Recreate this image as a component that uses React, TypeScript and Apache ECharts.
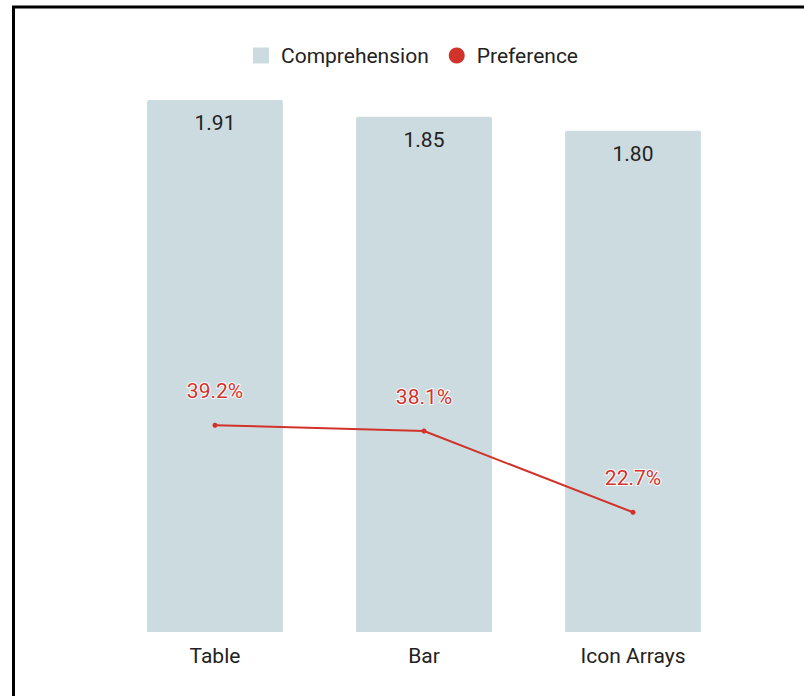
import React, { useEffect, useRef } from "react";
import * as echarts from "echarts";

const categories = ["Table", "Bar", "Icon Arrays"];
const comprehension = [1.91, 1.85, 1.8];
const preference = [39.2, 38.1, 22.7];

export default function App() {
  const ref = useRef<HTMLDivElement>(null);
  useEffect(() => {
    document.body.style.margin = "0";
    const chart = echarts.init(ref.current!, null, { renderer: "svg" });
    chart.setOption({
      animation: false,
      backgroundColor: "#ffffff",
      textStyle: { fontFamily: "Roboto" },
      graphic: [
        {
          type: "rect",
          shape: { x: 13.5, y: 7, width: 900, height: 900 },
          style: { fill: "none", stroke: "#000", lineWidth: 3 },
          silent: true,
        },
      ],
      legend: {
        top: 40,
        left: 248,
        itemWidth: 16,
        itemHeight: 16,
        itemGap: 20,
        textStyle: {
          fontSize: 21,
          color: "#222",
          fontFamily: "Roboto",
          padding: [0, 0, 0, 7],
        },
        data: [
          { name: "Comprehension", icon: "rect" },
          { name: "Preference", icon: "circle" },
        ],
      },
      grid: { left: 110.5, right: 66.5, top: 75, bottom: 64 },
      xAxis: {
        type: "category",
        data: categories,
        axisLine: { show: false },
        axisTick: { show: false },
        axisLabel: { fontSize: 21, color: "#222", margin: 13, fontFamily: "Roboto" },
      },
      yAxis: [
        { type: "value", min: 0, max: 2, show: false, splitLine: { show: false } },
        { type: "value", min: 0, max: 105.6, show: false, splitLine: { show: false } },
      ],
      series: [
        {
          name: "Comprehension",
          type: "bar",
          data: comprehension,
          barWidth: "65%",
          itemStyle: { color: "#ccdbdf", borderRadius: [2, 2, 0, 0] },
          label: {
            show: true,
            position: "insideTop",
            distance: 12.5,
            fontSize: 21,
            color: "#222",
            fontFamily: "Roboto",
            formatter: (p: any) => p.value.toFixed(2),
          },
        },
        {
          name: "Preference",
          type: "line",
          yAxisIndex: 1,
          data: preference,
          symbol: "circle",
          symbolSize: 5,
          itemStyle: { color: "#d1322a" },
          lineStyle: { color: "#d1322a", width: 2 },
          label: {
            show: true,
            position: "top",
            distance: 21,
            fontSize: 21,
            color: "#d1322a",
            fontFamily: "Roboto",
            textBorderColor: "#fff",
            textBorderWidth: 2,
            formatter: (p: any) => p.value.toFixed(1) + "%",
          },
        },
      ],
    });
    return () => chart.dispose();
  }, []);
  return <div ref={ref} style={{ width: 804, height: 696 }} />;
}
